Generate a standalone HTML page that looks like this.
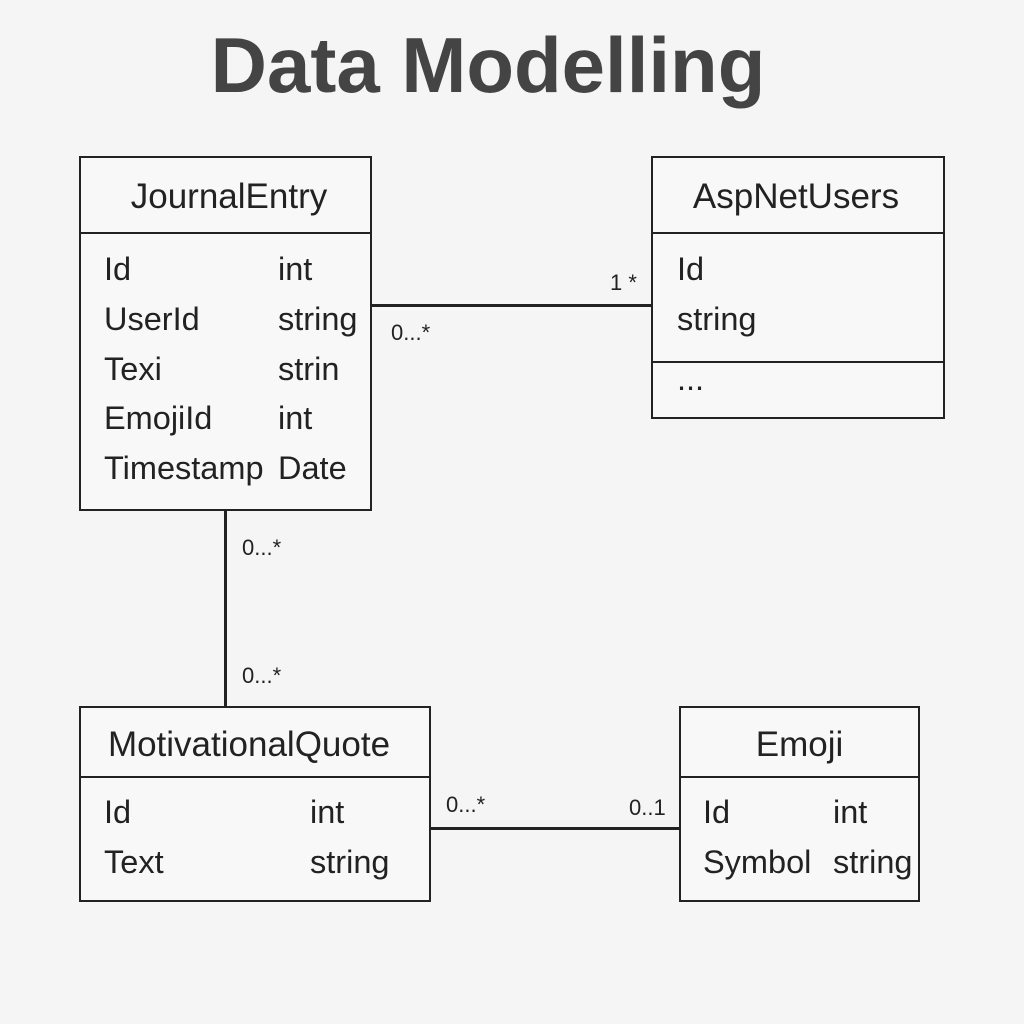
<!DOCTYPE html>
<html><head><meta charset="utf-8"><style>
body{margin:0;width:1024px;height:1024px;background:#f5f5f5;font-family:"Liberation Sans",sans-serif;color:#222;position:relative;overflow:hidden}
.t{position:absolute;white-space:nowrap}
.box{position:absolute;border:2.5px solid #222;box-sizing:border-box;background:#f8f8f8}
.hl{position:absolute;left:0;right:0;border-top:2.5px solid #222}
.line{position:absolute;background:#222}
.f{font-size:32.5px}
.h{font-size:35px}
.m{font-size:22px}
</style></head><body>
<div class="t" style="left:0;width:976px;text-align:center;top:20px;font-size:78px;font-weight:bold;color:#444">Data Modelling</div>

<div class="box" style="left:79px;top:156px;width:293px;height:355px"><div class="hl" style="top:74px"></div></div>
<div class="t h" style="left:79px;width:300px;text-align:center;top:177px">JournalEntry</div>
<div class="t f" style="left:104px;top:251px">Id</div><div class="t f" style="left:278px;top:251px">int</div>
<div class="t f" style="left:104px;top:301px">UserId</div><div class="t f" style="left:278px;top:301px">string</div>
<div class="t f" style="left:104px;top:351px">Texi</div><div class="t f" style="left:278px;top:351px">strin</div>
<div class="t f" style="left:104px;top:400px">EmojiId</div><div class="t f" style="left:278px;top:400px">int</div>
<div class="t f" style="left:104px;top:450px">Timestamp</div><div class="t f" style="left:278px;top:450px">Date</div>

<div class="box" style="left:651px;top:156px;width:294px;height:263px"><div class="hl" style="top:74px"></div><div class="hl" style="top:203px"></div></div>
<div class="t h" style="left:651px;width:290px;text-align:center;top:177px">AspNetUsers</div>
<div class="t f" style="left:677px;top:251px">Id</div>
<div class="t f" style="left:677px;top:301px">string</div>
<div class="t f" style="left:677px;top:361px">...</div>

<div class="box" style="left:79px;top:706px;width:352px;height:196px"><div class="hl" style="top:68px"></div></div>
<div class="t h" style="left:79px;width:340px;text-align:center;top:725px">MotivationalQuote</div>
<div class="t f" style="left:104px;top:794px">Id</div><div class="t f" style="left:310px;top:794px">int</div>
<div class="t f" style="left:104px;top:844px">Text</div><div class="t f" style="left:310px;top:844px">string</div>

<div class="box" style="left:679px;top:706px;width:241px;height:196px"><div class="hl" style="top:68px"></div></div>
<div class="t h" style="left:679px;width:241px;text-align:center;top:725px">Emoji</div>
<div class="t f" style="left:703px;top:794px">Id</div><div class="t f" style="left:833px;top:794px">int</div>
<div class="t f" style="left:703px;top:844px">Symbol</div><div class="t f" style="left:833px;top:844px">string</div>

<div class="line" style="left:372px;top:304px;width:280px;height:2.5px"></div>
<div class="line" style="left:224px;top:511px;width:2.5px;height:196px"></div>
<div class="line" style="left:431px;top:827px;width:249px;height:2.5px"></div>

<div class="t m" style="left:610px;top:270px">1 *</div>
<div class="t m" style="left:391px;top:320px">0...*</div>
<div class="t m" style="left:242px;top:535px">0...*</div>
<div class="t m" style="left:242px;top:663px">0...*</div>
<div class="t m" style="left:446px;top:792px">0...*</div>
<div class="t m" style="left:629px;top:795px">0..1</div>
</body></html>
